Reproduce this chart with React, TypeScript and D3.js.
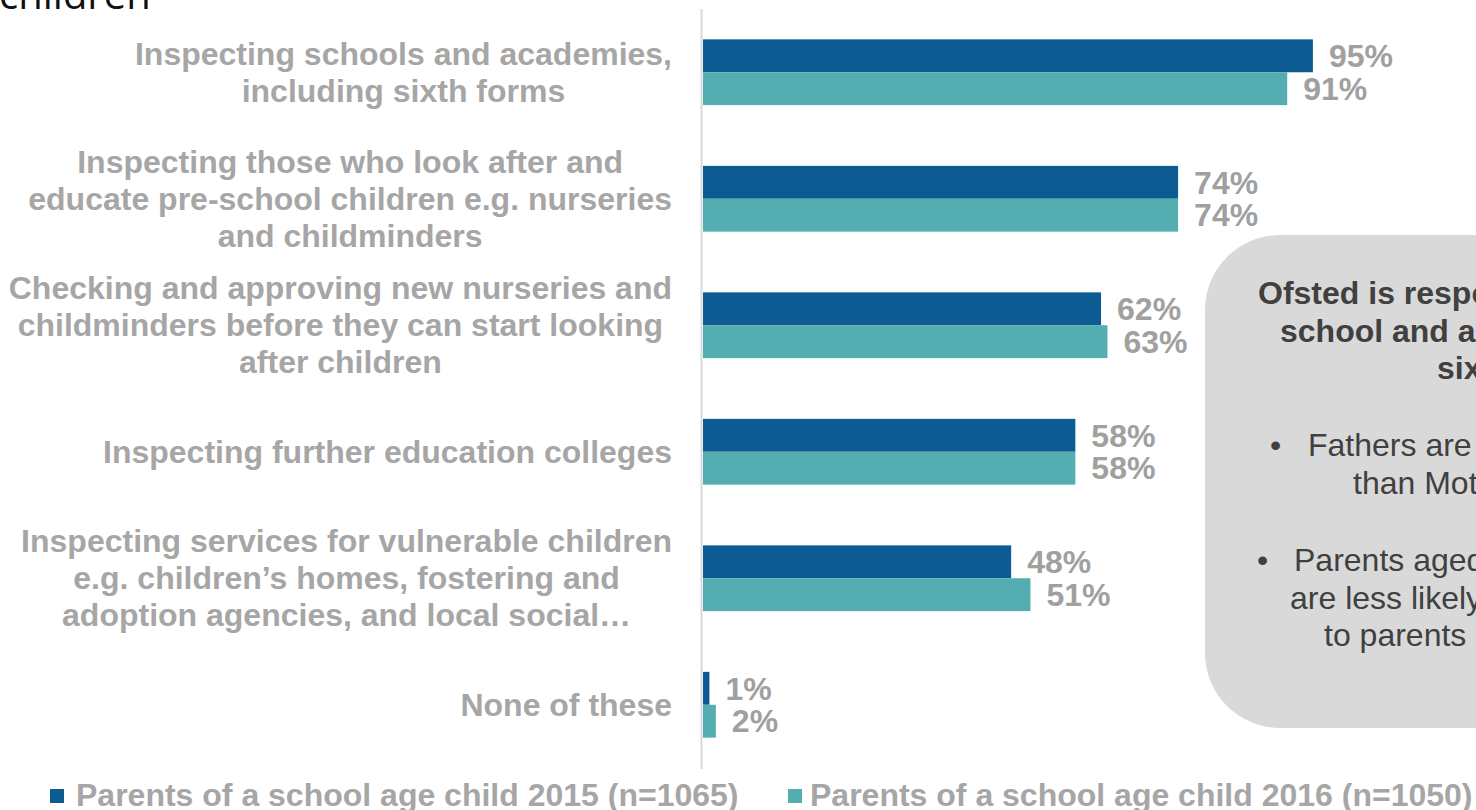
import React, { useEffect, useRef } from 'react';
import * as d3 from 'd3';

// chart data
const categories: string[][] = [
  ['Inspecting schools and academies,', 'including sixth forms'],
  ['Inspecting those who look after and', 'educate pre-school children e.g. nurseries', 'and childminders'],
  ['Checking and approving new nurseries and', 'childminders before they can start looking', 'after children'],
  ['Inspecting further education colleges'],
  ['Inspecting services for vulnerable children', 'e.g. children\u2019s homes, fostering and', 'adoption agencies, and local social\u2026'],
  ['None of these'],
];
const values2015 = [95, 74, 62, 58, 48, 1];
const values2016 = [91, 74, 63, 58, 51, 2];
const seriesNames = ['Parents of a school age child 2015 (n=1065)', 'Parents of a school age child 2016 (n=1050)'];

// callout text (runs off the right edge in the original)
const calloutTitle = ['Ofsted is responsible for inspecting', 'school and academies, including', 'sixth forms'];
const calloutBullets = [
  ['Fathers are more likely to be aware', 'than Mothers'],
  ['Parents aged 25-34 years', 'are less likely to be aware compared', 'to parents aged 35+'],
];

const W = 1476;
const H = 810;
const FONT = '"Liberation Sans", Arial, sans-serif';
const COLORS = ['#0e5b93', '#53adb1'];

export default function App() {
  const svgRef = useRef<SVGSVGElement>(null);

  useEffect(() => {
    if (!svgRef.current) return;
    const svg = d3.select(svgRef.current);
    svg.selectAll('*').remove();

    const x = d3.scaleLinear().domain([0, 100]).range([703, 1345]);
    const y = d3.scaleBand<number>()
      .domain(d3.range(categories.length))
      .range([9, 768])
      .paddingInner(0.48)
      .paddingOuter(0.24);
    const sub = d3.scaleBand<number>().domain([0, 1]).range([0, y.bandwidth()]);

    // page title fragment at the top
    svg.append('text')
      .attr('x', -1)
      .attr('y', 9)
      .attr('font-family', '"Open Sans", sans-serif')
      .attr('font-size', 40)
      .attr('fill', '#111')
      .text('children');

    // axis line
    svg.append('line')
      .attr('x1', 701.5).attr('x2', 701.5)
      .attr('y1', 9).attr('y2', 769)
      .attr('stroke', '#d9d9d9')
      .attr('stroke-width', 2);

    const series = [values2015, values2016];
    series.forEach((vals, si) => {
      const g = svg.append('g');
      g.selectAll('rect')
        .data(vals)
        .join('rect')
        .attr('x', x(0))
        .attr('y', (_, i) => (y(i) as number) + (sub(si) as number))
        .attr('width', d => x(d) - x(0))
        .attr('height', sub.bandwidth())
        .attr('fill', COLORS[si]);

      g.selectAll('text')
        .data(vals)
        .join('text')
        .attr('x', d => x(d) + 16)
        .attr('y', (_, i) => (y(i) as number) + (sub(si) as number) + sub.bandwidth() / 2)
        .attr('dy', '0.35em')
        .attr('font-family', FONT)
        .attr('font-weight', 'bold')
        .attr('font-size', 32)
        .attr('fill', '#a0a0a0')
        .text(d => `${d}%`);
    });

    // category labels: centred lines, block right-aligned to 672
    const lineH = 37;
    categories.forEach((lines, i) => {
      const cy = (y(i) as number) + y.bandwidth() / 2;
      const g = svg.append('g');
      const texts = g.selectAll('text')
        .data(lines)
        .join('text')
        .attr('y', (_, j) => cy + (j - (lines.length - 1) / 2) * lineH)
        .attr('dy', '0.35em')
        .attr('font-family', FONT)
        .attr('font-weight', 'bold')
        .attr('font-size', 32)
        .attr('fill', '#a6a6a6')
        .attr('text-anchor', 'middle')
        .text(d => d);
      let maxW = 0;
      texts.each(function () {
        maxW = Math.max(maxW, (this as SVGTextElement).getComputedTextLength());
      });
      texts.attr('x', 672 - maxW / 2);
    });

    // callout box
    const box = svg.append('g');
    box.append('rect')
      .attr('x', 1205).attr('y', 235)
      .attr('width', 400).attr('height', 493)
      .attr('rx', 75).attr('ry', 75)
      .attr('fill', '#d9d9d9');

    const titleX = [1258, 1280, 1437];
    calloutTitle.forEach((t, i) => {
      box.append('text')
        .attr('x', titleX[i])
        .attr('y', 304 + i * 37.5)
        .attr('font-family', FONT)
        .attr('font-weight', 'bold')
        .attr('font-size', 32)
        .attr('fill', '#404040')
        .text(t);
    });

    const bulletLayout = [
      { bx: 1270, y0: 456, xs: [1308, 1353] },
      { bx: 1257, y0: 571, xs: [1294, 1290, 1324] },
    ];
    calloutBullets.forEach((lines, bi) => {
      const L = bulletLayout[bi];
      box.append('text')
        .attr('x', L.bx)
        .attr('y', L.y0)
        .attr('font-family', FONT)
        .attr('font-size', 32)
        .attr('fill', '#404040')
        .text('\u2022');
      lines.forEach((t, j) => {
        box.append('text')
          .attr('x', L.xs[j])
          .attr('y', L.y0 + j * 37.5)
          .attr('font-family', FONT)
          .attr('font-size', 32)
          .attr('fill', '#404040')
          .text(t);
      });
    });

    // legend
    const legend = svg.append('g')
      .selectAll('g')
      .data(seriesNames)
      .join('g')
      .attr('transform', (_, i) => `translate(${50 + i * 738},0)`);
    legend.append('rect')
      .attr('x', 0).attr('y', 789)
      .attr('width', 14).attr('height', 14)
      .attr('fill', (_, i) => COLORS[i]);
    legend.append('text')
      .attr('x', (_, i) => (i === 0 ? 26 : 22))
      .attr('y', 806)
      .attr('font-family', FONT)
      .attr('font-weight', 'bold')
      .attr('font-size', 32)
      .attr('fill', '#a6a6a6')
      .text(d => d);
  }, []);

  return (
    <svg
      ref={svgRef}
      width={W}
      height={H}
      style={{ position: 'fixed', left: 0, top: 0, background: '#fff' }}
    />
  );
}
